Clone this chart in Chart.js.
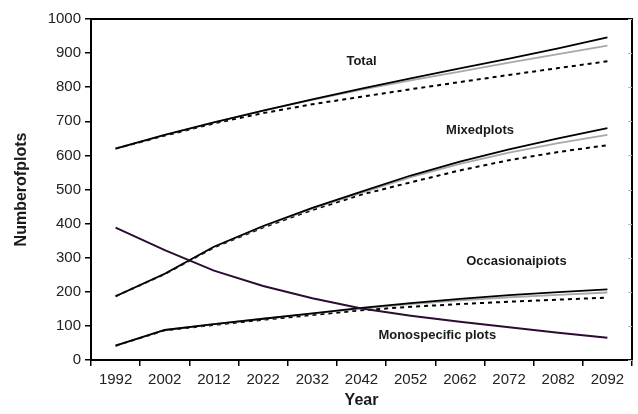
<!DOCTYPE html>
<html>
<head>
<meta charset="utf-8">
<script src="https://cdn.jsdelivr.net/npm/chart.js@4/dist/chart.umd.min.js"></script>
<style>
  html, body { margin: 0; padding: 0; background: #fff; }
  #wrap { width: 638px; height: 414px; position: relative; }
</style>
</head>
<body>
<div id="wrap"><canvas id="c" width="638" height="414"></canvas></div>
<script>
// Projected number of plots by type, 1992-2092
const years = ['1992', '2002', '2012', '2022', '2032', '2042', '2052', '2062', '2072', '2082', '2092'];

const totalA = [620, 660, 697, 731, 764, 796, 826, 855, 884, 914, 946];
const totalB = [620, 660, 697, 731, 763, 793, 820, 846, 872, 897, 922];
const totalC = [620, 658, 694, 724, 750, 772, 794, 815, 836, 856, 876];

const mixedA = [187, 253, 332, 393, 446, 494, 541, 582, 618, 650, 680];
const mixedB = [187, 253, 332, 392, 444, 490, 536, 575, 608, 636, 660];
const mixedC = [187, 252, 330, 389, 440, 485, 521, 556, 586, 610, 630];

const occasionalA = [42, 88, 105, 121, 137, 153, 167, 179, 190, 199, 207];
const occasionalB = [42, 88, 105, 121, 136, 151, 164, 175, 184, 191, 198];
const occasionalC = [42, 87, 103, 118, 132, 146, 156, 164, 171, 177, 183];

const monospecific = [388, 322, 262, 217, 181, 151, 130, 112, 96, 80, 65];

const yTicks = [0, 100, 200, 300, 400, 500, 600, 700, 800, 900, 1000];

// In-plot series names, anchored as [category index, value]
const seriesNames = ['Total', 'Mixedplots', 'Occasionaipiots', 'Monospecific plots'];
const nameAnchors = [[5.0, 875], [7.41, 672], [8.15, 290], [6.54, 73]];

const FONT = '"Liberation Sans", Arial, Helvetica, sans-serif';

function solid(data, color) {
  return { data, borderColor: color, borderWidth: 1.8, pointRadius: 0, tension: 0, fill: false };
}
function dashed(data) {
  return { data, borderColor: '#000', borderWidth: 2, borderDash: [4, 4],
           pointRadius: 0, tension: 0, fill: false };
}

const datasets = [];
// drawn in order: dashed, grey, black (black on top)
[[totalA, totalB, totalC], [mixedA, mixedB, mixedC], [occasionalA, occasionalB, occasionalC]]
  .forEach(([a, b, c]) => {
    datasets.push(Object.assign(dashed(c), { order: 3 }));
    datasets.push(Object.assign(solid(b, '#a8a8a8'), { order: 2 }));
    datasets.push(Object.assign(solid(a, '#000000'), { order: 1 }));
  });
datasets.push(Object.assign(solid(monospecific, '#2c0c34'), { order: 0, borderWidth: 2 }));

const frameAndNames = {
  id: 'frameAndNames',
  afterDraw(chart) {
    const { ctx, chartArea: a, scales } = chart;
    ctx.save();
    // top and right frame edges
    ctx.strokeStyle = '#000';
    ctx.lineWidth = 2;
    ctx.beginPath();
    ctx.moveTo(a.left, a.top);
    ctx.lineTo(a.right, a.top);
    ctx.lineTo(a.right, a.bottom);
    ctx.stroke();
    // faint inward ticks on the right edge
    ctx.strokeStyle = '#bbbbbb';
    ctx.lineWidth = 1;
    yTicks.forEach(v => {
      const y = Math.round(scales.y.getPixelForValue(v)) + 0.5;
      ctx.beginPath();
      ctx.moveTo(a.right - 4, y);
      ctx.lineTo(a.right, y);
      ctx.stroke();
    });
    // series names
    ctx.fillStyle = '#1a1a1a';
    ctx.font = 'bold 13px ' + FONT;
    ctx.textAlign = 'center';
    ctx.textBaseline = 'middle';
    seriesNames.forEach((t, i) => {
      const [xi, v] = nameAnchors[i];
      ctx.fillText(t, scales.x.getPixelForValue(xi), scales.y.getPixelForValue(v));
    });
    ctx.restore();
  }
};

new Chart(document.getElementById('c'), {
  type: 'line',
  data: { labels: years, datasets },
  options: {
    responsive: false,
    animation: false,
    devicePixelRatio: 1,
    layout: { padding: { left: 0, right: 6, top: 19, bottom: 0 } },
    plugins: { legend: { display: false }, tooltip: { enabled: false } },
    scales: {
      x: {
        type: 'category',
        offset: true,
        grid: { offset: true, drawOnChartArea: false, drawTicks: true, tickLength: 6, color: '#000', lineWidth: 1.5 },
        border: { display: true, color: '#000', width: 2 },
        ticks: { color: '#222', font: { family: FONT, size: 15 }, padding: 5, maxRotation: 0, autoSkip: false },
        title: { display: true, text: 'Year', color: '#1a1a1a', font: { family: FONT, size: 16, weight: 'bold' }, padding: { top: 0, bottom: 4 } },
        afterFit(s) { s.height = 54; }
      },
      y: {
        min: 0, max: 1000,
        afterBuildTicks(s) { s.ticks = yTicks.map(v => ({ value: v })); },
        grid: { drawOnChartArea: false, drawTicks: true, tickLength: 6, color: '#000', lineWidth: 1.5 },
        border: { display: true, color: '#000', width: 2 },
        ticks: { color: '#222', font: { family: FONT, size: 15 }, padding: 4, callback: v => String(v) },
        title: { display: true, text: 'Numberofplots', color: '#1a1a1a', font: { family: FONT, size: 16, weight: 'bold' }, padding: { top: 12, bottom: 0 } },
        afterFit(s) { s.width = 91; }
      }
    }
  },
  plugins: [frameAndNames]
});
</script>
</body>
</html>
